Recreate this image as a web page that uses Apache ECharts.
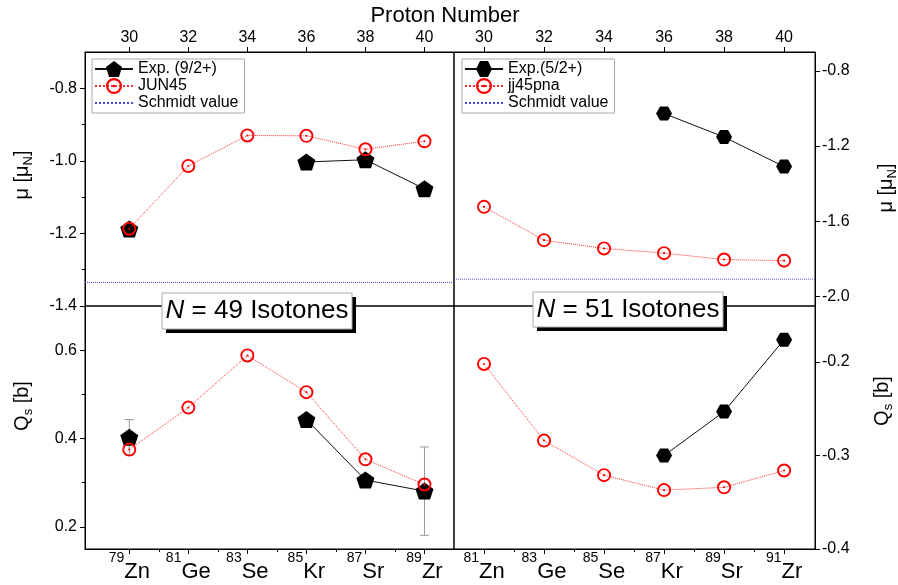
<!DOCTYPE html>
<html>
<head>
<meta charset="utf-8">
<script src="https://cdn.jsdelivr.net/npm/echarts@6/dist/echarts.min.js"></script>
<style>
  html, body { margin: 0; padding: 0; background: #fff; }
  #chart { width: 898px; height: 585px; }
</style>
</head>
<body>
<div id="chart"></div>
<script>
// proton number and isotopes
const protonZ = [30, 32, 34, 36, 38, 40]
const elements = ['Zn', 'Ge', 'Se', 'Kr', 'Sr', 'Zr']
const massN49 = [79, 81, 83, 85, 87, 89]
const massN51 = [81, 83, 85, 87, 89, 91]

// magnetic moments
const muExpN49 = [-1.188, null, null, -1.003, -0.997, -1.077]
const muJun45N49 = [-1.187, -1.014, -0.930, -0.931, -0.968, -0.946]
const muExpN51 = [null, null, null, -1.027, -1.152, -1.309]
const muJj45N51 = [-1.523, -1.700, -1.744, -1.769, -1.803, -1.809]
const schmidtN49 = -1.335
const schmidtN51 = -1.907

// quadrupole moments
const qExpN49 = [0.403, null, null, 0.443, 0.306, 0.281]
const qExpErrN49 = [0.04, null, null, null, null, 0.10]
const qJun45N49 = [0.375, 0.470, 0.588, 0.505, 0.353, 0.296]
const qExpN51 = [null, null, null, -0.300, -0.253, -0.176]
const qJj45N51 = [-0.202, -0.284, -0.321, -0.337, -0.334, -0.316]

// tick labels
const topTicks = [30, 32, 34, 36, 38, 40]
const muTicksN49 = [-1.4, -1.2, -1.0, -0.8]
const muMinorN49 = [-1.3, -1.1, -0.9]
const muTicksN51 = [-2.0, -1.6, -1.2, -0.8]
const qTicksN49 = [0.2, 0.4, 0.6]
const qMinorN49 = [0.3, 0.5]
const qTicksN51 = [-0.4, -0.3, -0.2]
const bottomMinor = [31, 33, 35, 37, 39]

const FONT = 'Arial, "Liberation Sans", sans-serif'
const PENTAGON = 'path://M0,-10L9.51,-3.09L5.88,8.09L-5.88,8.09L-9.51,-3.09Z'
const HEXAGON = 'path://M-10,0L-5,-8.66L5,-8.66L10,0L5,8.66L-5,8.66Z'
const RING = 'path://M0,-10A10,10 0 1 1 0,10A10,10 0 1 1 0,-10Z M0,-7.3A7.3,7.3 0 1 0 0,7.3A7.3,7.3 0 1 0 0,-7.3Z M0,-1.5A1.5,1.5 0 1 1 0,1.5A1.5,1.5 0 1 1 0,-1.5Z'

const pairs = (vals) => protonZ.map((z, i) => [z, vals[i] == null ? '-' : vals[i]])

const chart = echarts.init(document.getElementById('chart'))

function mainX(grid, min, max, pos, ticks, formatter, margin) {
  return {
    type: 'value', gridIndex: grid, min, max, position: pos,
    axisLine: { show: true, lineStyle: { color: '#000', width: 1 } },
    axisTick: { show: true, length: 5, customValues: ticks, lineStyle: { color: '#000' } },
    axisLabel: { show: true, customValues: ticks, formatter, margin, color: '#000', fontSize: 16, fontFamily: FONT,
      rich: {
        s: { fontSize: 14, fontFamily: FONT, color: '#000', lineHeight: 14, verticalAlign: 'top' },
        e: { fontSize: 22, fontFamily: FONT, color: '#000', lineHeight: 32, verticalAlign: 'bottom' },
      } },
    splitLine: { show: false },
  }
}

function mainY(grid, min, max, pos, ticks, margin) {
  return {
    type: 'value', gridIndex: grid, min, max, position: pos,
    axisLine: { show: true, lineStyle: { color: '#000', width: 1 } },
    axisTick: { show: true, length: 5, customValues: ticks, lineStyle: { color: '#000' } },
    axisLabel: { show: true, customValues: ticks, formatter: (v) => v.toFixed(1), margin,
      color: '#000', fontSize: 16, fontFamily: FONT },
    splitLine: { show: false },
  }
}

// extra axes only carrying short minor ticks
function minorAxis(grid, min, max, pos, ticks) {
  return {
    type: 'value', gridIndex: grid, min, max, position: pos,
    axisLine: { show: false },
    axisTick: { show: true, length: 3, customValues: ticks, lineStyle: { color: '#000' } },
    axisLabel: { show: false },
    splitLine: { show: false },
  }
}

const labelN49 = (v) => {
  const i = protonZ.indexOf(Math.round(v))
  return '{s|' + massN49[i] + '}{e|' + elements[i] + '}'
}
const labelN51 = (v) => {
  const i = protonZ.indexOf(Math.round(v))
  return '{s|' + massN51[i] + '}{e|' + elements[i] + '}'
}

const expLine = { color: '#111', width: 1, type: 'solid' }
const theoLine = { color: '#ff3030', width: 1, type: 'dotted' }
const schmidtLine = { color: '#4a4ae0', width: 1, type: 'dotted' }

function errorBars(xIdx, yIdx, vals, errs) {
  const data = []
  protonZ.forEach((z, i) => {
    if (vals[i] != null && errs[i] != null) data.push([z, vals[i] - errs[i], vals[i] + errs[i]])
  })
  return {
    type: 'custom', xAxisIndex: xIdx, yAxisIndex: yIdx, z: 1, silent: true,
    encode: { x: 0, y: [1, 2] },
    data,
    renderItem(params, api) {
      const x = api.value(0)
      const lo = api.coord([x, api.value(1)])
      const hi = api.coord([x, api.value(2)])
      const w = 4.5
      const st = { stroke: '#999', lineWidth: 1 }
      return {
        type: 'group',
        children: [
          { type: 'line', shape: { x1: hi[0], y1: hi[1], x2: lo[0], y2: lo[1] }, style: st },
          { type: 'line', shape: { x1: hi[0] - w, y1: hi[1], x2: hi[0] + w, y2: hi[1] }, style: st },
          { type: 'line', shape: { x1: lo[0] - w, y1: lo[1], x2: lo[0] + w, y2: lo[1] }, style: st },
        ],
      }
    },
  }
}

function legendBox(left, top, names) {
  return {
    data: names.map((n) => n === 'Schmidt value'
      ? { name: n, itemStyle: { opacity: 0, color: 'rgba(0,0,0,0)' } }
      : { name: n }),
    orient: 'vertical', left, top,
    padding: [2, 6, 2, 2], itemGap: 1, itemWidth: 38, itemHeight: 20,
    borderColor: '#aaa', borderWidth: 1, backgroundColor: '#fff', selectedMode: false,
    textStyle: { fontSize: 16, fontFamily: FONT, color: '#000' },
  }
}

function nameText(x, y, text) {
  return {
    type: 'text', x, y, rotation: Math.PI / 2, z: 100,
    style: {
      text, align: 'center', verticalAlign: 'middle', fill: '#000',
      rich: {
        m: { fontSize: 20, fontFamily: FONT, fill: '#000', lineHeight: 26, verticalAlign: 'middle' },
        s: { fontSize: 13, fontFamily: FONT, fill: '#000', lineHeight: 14, verticalAlign: 'bottom' },
      },
    },
  }
}

function titleBox(x, y, w, h, text) {
  return {
    type: 'group', z: 100,
    children: [
      { type: 'rect', shape: { x: x + 4, y: y + 4, width: w, height: h }, style: { fill: '#000' } },
      { type: 'rect', shape: { x, y, width: w, height: h }, style: { fill: '#fff', stroke: '#aaa', lineWidth: 1 } },
      {
        type: 'text', x: x + w / 2, y: y + h / 2,
        style: {
          text: '{i|N}{t| = ' + text + ' Isotones}', align: 'center', verticalAlign: 'middle',
          rich: {
            i: { fontSize: 26, fontFamily: FONT, fontStyle: 'italic', fill: '#000' },
            t: { fontSize: 26, fontFamily: FONT, fill: '#000' },
          },
        },
      },
    ],
  }
}

chart.setOption({
  animation: false,
  grid: [
    { left: 85, top: 52, width: 369, height: 254, show: true, borderColor: '#000', borderWidth: 1 },
    { left: 454, top: 52, width: 361, height: 254, show: true, borderColor: '#000', borderWidth: 1 },
    { left: 85, top: 306, width: 369, height: 243, show: true, borderColor: '#000', borderWidth: 1 },
    { left: 454, top: 306, width: 361, height: 243, show: true, borderColor: '#000', borderWidth: 1 },
  ],
  xAxis: [
    mainX(0, 28.5, 41, 'top', topTicks, (v) => String(v), 6),
    mainX(1, 29, 41.03, 'top', topTicks, (v) => String(v), 6),
    mainX(2, 28.5, 41, 'bottom', protonZ, labelN49, 2),
    mainX(3, 29, 41.03, 'bottom', protonZ, labelN51, 2),
    minorAxis(2, 28.5, 41, 'bottom', bottomMinor),
    minorAxis(3, 29, 41.03, 'bottom', bottomMinor),
  ],
  yAxis: [
    mainY(0, -1.4, -0.7, 'left', muTicksN49, 8),
    mainY(1, -2.05, -0.7, 'right', muTicksN51, 7),
    mainY(2, 0.15, 0.70, 'left', qTicksN49, 8),
    mainY(3, -0.4, -0.14, 'right', qTicksN51, 7),
    minorAxis(0, -1.4, -0.7, 'left', muMinorN49),
    minorAxis(2, 0.15, 0.70, 'left', qMinorN49),
  ],
  legend: [
    legendBox(92, 59, ['Exp. (9/2+)', 'JUN45', 'Schmidt value']),
    legendBox(462, 59, ['Exp.(5/2+)', 'jj45pna', 'Schmidt value']),
  ],
  series: [
    // N = 49 magnetic moments
    { name: 'Schmidt value', type: 'line', xAxisIndex: 0, yAxisIndex: 0, symbol: 'none', silent: true,
      lineStyle: schmidtLine, itemStyle: { color: schmidtLine.color },
      data: [[28.5, schmidtN49], [41, schmidtN49]] },
    { name: 'Exp. (9/2+)', type: 'line', xAxisIndex: 0, yAxisIndex: 0, symbol: PENTAGON, symbolSize: [18, 17],
      showAllSymbol: true, connectNulls: false, lineStyle: expLine, itemStyle: { color: '#000' }, z: 3,
      data: pairs(muExpN49) },
    { name: 'JUN45', type: 'line', xAxisIndex: 0, yAxisIndex: 0, symbol: RING, symbolSize: 14,
      showAllSymbol: true, lineStyle: theoLine, itemStyle: { color: '#ff0000' }, z: 4,
      data: pairs(muJun45N49) },
    // N = 51 magnetic moments
    { name: 'Schmidt value', type: 'line', xAxisIndex: 1, yAxisIndex: 1, symbol: 'none', silent: true,
      lineStyle: schmidtLine, itemStyle: { color: schmidtLine.color },
      data: [[29, schmidtN51], [41.03, schmidtN51]] },
    { name: 'Exp.(5/2+)', type: 'line', xAxisIndex: 1, yAxisIndex: 1, symbol: HEXAGON, symbolSize: [16, 14],
      showAllSymbol: true, connectNulls: false, lineStyle: expLine, itemStyle: { color: '#000' }, z: 3,
      data: pairs(muExpN51) },
    { name: 'jj45pna', type: 'line', xAxisIndex: 1, yAxisIndex: 1, symbol: RING, symbolSize: 14,
      showAllSymbol: true, lineStyle: theoLine, itemStyle: { color: '#ff0000' }, z: 4,
      data: pairs(muJj45N51) },
    // N = 49 quadrupole moments
    errorBars(2, 2, qExpN49, qExpErrN49),
    { name: 'Exp. (9/2+)', type: 'line', xAxisIndex: 2, yAxisIndex: 2, symbol: PENTAGON, symbolSize: [18, 17],
      showAllSymbol: true, connectNulls: false, lineStyle: expLine, itemStyle: { color: '#000' }, z: 3,
      data: pairs(qExpN49) },
    { name: 'JUN45', type: 'line', xAxisIndex: 2, yAxisIndex: 2, symbol: RING, symbolSize: 14,
      showAllSymbol: true, lineStyle: theoLine, itemStyle: { color: '#ff0000' }, z: 4,
      data: pairs(qJun45N49) },
    // N = 51 quadrupole moments
    { name: 'Exp.(5/2+)', type: 'line', xAxisIndex: 3, yAxisIndex: 3, symbol: HEXAGON, symbolSize: [16, 14],
      showAllSymbol: true, connectNulls: false, lineStyle: expLine, itemStyle: { color: '#000' }, z: 3,
      data: pairs(qExpN51) },
    { name: 'jj45pna', type: 'line', xAxisIndex: 3, yAxisIndex: 3, symbol: RING, symbolSize: 14,
      showAllSymbol: true, lineStyle: theoLine, itemStyle: { color: '#ff0000' }, z: 4,
      data: pairs(qJj45N51) },
  ],
  graphic: [
    { type: 'text', x: 445, y: 16, z: 100,
      style: { text: 'Proton Number', align: 'center', verticalAlign: 'middle', fontSize: 22, fontFamily: FONT, fill: '#000' } },
    nameText(22, 175, '{m|μ [μ}{s|N}{m|]}'),
    nameText(22, 406, '{m|Q}{s|s}{m| [b]}'),
    nameText(886, 188, '{m|μ [μ}{s|N}{m|]}'),
    nameText(882, 401, '{m|Q}{s|s}{m| [b]}'),
    titleBox(162, 293, 190, 36, '49'),
    titleBox(533, 292, 190, 35, '51'),
  ],
})
</script>
</body>
</html>
